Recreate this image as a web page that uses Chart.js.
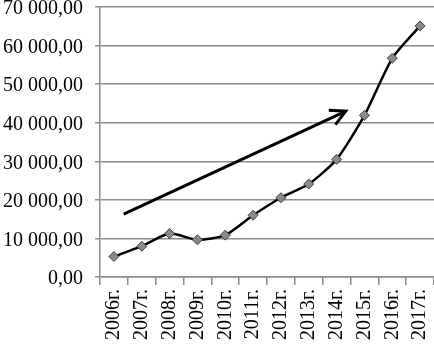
<!DOCTYPE html>
<html>
<head>
<meta charset="utf-8">
<script src="https://cdn.jsdelivr.net/npm/chart.js@4.4.1/dist/chart.umd.min.js"></script>
<style>
html,body{margin:0;padding:0;background:#fff;overflow:hidden;}
#wrap{width:434px;height:346px;overflow:hidden;}
canvas{display:block;}
</style>
</head>
<body>
<div id="wrap"><canvas id="c" width="440" height="346"></canvas></div>
<script>
const categories = ['2006г.','2007г.','2008г.','2009г.','2010г.','2011г.','2012г.','2013г.','2014г.','2015г.','2016г.','2017г.'];
const values = [5300, 8000, 11250, 9650, 10850, 16000, 20550, 24100, 30500, 41900, 56700, 65100];
const yTickLabels = ['0,00','10 000,00','20 000,00','30 000,00','40 000,00','50 000,00','60 000,00','70 000,00'];
// trend arrow: [category index, value]
const arrowStart = [0.35, 16300];
const arrowEnd = [8.33, 43000];

const FONT = "'Liberation Serif', 'Times New Roman', serif";

const arrowPlugin = {
  id: 'trendArrow',
  afterDatasetsDraw(chart) {
    const xs = chart.scales.x, ys = chart.scales.y, ctx = chart.ctx;
    const x1 = xs.getPixelForValue(arrowStart[0]), y1 = ys.getPixelForValue(arrowStart[1]);
    const x2 = xs.getPixelForValue(arrowEnd[0]), y2 = ys.getPixelForValue(arrowEnd[1]);
    const ang = Math.atan2(y2 - y1, x2 - x1);
    const hl = 17, ha = Math.PI / 6.5;
    ctx.save();
    ctx.strokeStyle = '#000';
    ctx.lineWidth = 3;
    ctx.lineCap = 'butt';
    ctx.beginPath();
    ctx.moveTo(x1, y1); ctx.lineTo(x2 - 1.5 * Math.cos(ang), y2 - 1.5 * Math.sin(ang));
    ctx.stroke();
    ctx.lineJoin = 'miter';
    ctx.beginPath();
    ctx.moveTo(x2 - hl * Math.cos(ang - ha), y2 - hl * Math.sin(ang - ha));
    ctx.lineTo(x2, y2);
    ctx.lineTo(x2 - hl * Math.cos(ang + ha), y2 - hl * Math.sin(ang + ha));
    ctx.stroke();
    ctx.restore();
  }
};

new Chart(document.getElementById('c'), {
  type: 'line',
  data: {
    labels: categories,
    datasets: [{
      data: values,
      borderColor: '#000',
      borderWidth: 2.5,
      tension: 0.22,
      pointStyle: 'rectRot',
      pointRadius: 5,
      pointBackgroundColor: '#8a8a8a',
      pointBorderColor: '#404040',
      pointBorderWidth: 1,
      fill: false
    }]
  },
  options: {
    responsive: false,
    animation: false,
    devicePixelRatio: 1,
    layout: { padding: { top: 7, right: 2, bottom: 0, left: 0 } },
    plugins: { legend: { display: false }, tooltip: { enabled: false } },
    scales: {
      x: {
        type: 'category',
        offset: true,
        grid: { display: true, drawOnChartArea: false, drawTicks: true, tickLength: 8, offset: true, color: '#8c8c8c', lineWidth: 1.5 },
        border: { display: true, color: '#8c8c8c', width: 1.5 },
        ticks: {
          autoSkip: false, maxRotation: 90, minRotation: 90, padding: 4,
          color: '#000', font: { family: FONT, size: 20 }
        },
        afterFit(s) { s.height = 69; s.paddingLeft = 0; s.paddingRight = 0; }
      },
      y: {
        min: 0, max: 70000,
        grid: { color: '#8c8c8c', lineWidth: 1.5, drawTicks: true, tickLength: 5 },
        border: { display: true, color: '#8c8c8c', width: 1.5 },
        ticks: {
          stepSize: 10000, padding: 12, color: '#000', labelOffset: 2,
          font: { family: FONT, size: 20 },
          callback: (v) => yTickLabels[Math.round(v / 10000)]
        },
        afterFit(s) { s.width = 100; s.paddingTop = 0; s.paddingBottom = 0; }
      }
    }
  },
  plugins: [arrowPlugin]
});
</script>
</body>
</html>
